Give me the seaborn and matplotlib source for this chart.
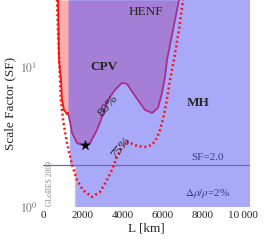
import numpy as np
import pandas as pd
import seaborn as sns
import matplotlib
matplotlib.use("Agg")
import matplotlib.pyplot as plt
from matplotlib.ticker import FixedLocator, MultipleLocator, NullFormatter

sns.set_theme(style="white")
plt.rcParams['font.family'] = ['Liberation Serif', 'DejaVu Serif']
plt.rcParams['mathtext.fontset'] = 'stix'

# ---- data ----
# 75% contour (red dotted)
L75 = [700, 750, 850, 900, 1000, 1200, 1450, 1700, 2000, 2450, 2850, 3200, 3450, 3700,
       3950, 4250, 4700, 5100, 5450, 5700, 5850, 6000, 6150, 6250, 6350, 6550, 6800, 7000]
SF75 = [30.1, 18.4, 8.07, 5.81, 4.18, 2.86, 2.0, 1.56, 1.32, 1.18, 1.28, 1.56, 1.84, 2.28,
        2.68, 2.91, 2.73, 2.68, 2.77, 3.11, 3.55, 4.25, 5.35, 6.52, 8.07, 11.2, 18.4, 30.1]

# 80% contour (boundary of the HENF/CPV region)
L80 = [1250, 1350, 1450, 1700, 2100, 2350, 2700, 2950, 3250, 3600, 3950, 4200, 4500,
       4850, 5100, 5450, 5750, 5950, 6100, 6200, 6500, 6700, 6800]
SF80 = [4.7, 4.05, 3.38, 2.86, 2.73, 2.86, 3.55, 4.39, 5.81, 6.85, 7.69, 7.56, 6.52,
        5.53, 4.93, 4.69, 5.10, 6.52, 8.48, 11.2, 18.4, 25.5, 30.1]

# solid red curve (left edge of pink region)
Lred = [750, 800, 900, 950, 1050, 1200, 1250]
SFred = [30.1, 11.2, 8.07, 5.81, 4.93, 4.6, 4.7]

# best point (star)
L_star = [2100]
SF_star = [2.75]

# region limits
L_mh_upper = 1350     # left edge of MH region above SF=2
L_mh_lower = 1600     # left edge of MH region below SF=2
L_pink_right = 1300
SF_line = 2.0
xticks = [0, 2000, 4000, 6000, 8000, 10000]
xticklabels = ["0", "2000", "4000", "6000", "8000", "10\u2009000"]

XMAX = 10350
YMIN, YMAX = 1.0, 30.0

c_blue = "#a9a9fa"
c_purple = "#a57fd6"
c_pink = "#f9afaf"
c_mag = "#a8308c"
c_red = "#ff1010"

fig = plt.figure(figsize=(2.68, 2.44), dpi=100)
ax = fig.add_axes([43/268, 37/244, 207/268, 207/244])
ax.set_yscale("log")
ax.set_xlim(0, XMAX)
ax.set_ylim(YMIN, YMAX)

# MH region (blue)
ax.fill_betweenx([YMIN, SF_line], L_mh_lower, XMAX, color=c_blue, lw=0, zorder=1)
ax.fill_betweenx([SF_line, YMAX], L_mh_upper, XMAX, color=c_blue, lw=0, zorder=1)

# pink region
ax.fill_betweenx(SFred, Lred, L_pink_right, color=c_pink, lw=0, zorder=2)

# purple HENF region
ax.fill_between(L80, SF80, YMAX, color=c_purple, lw=0, zorder=2)
ax.fill_betweenx([SF80[0], YMAX], L_pink_right, L80[0] + 60, color=c_purple, lw=0, zorder=2)

# grey vertical line and SF=2 line
ax.plot([L_mh_lower, L_mh_lower], [YMIN, SF_line], color="#c8c8c8", lw=1.0, zorder=3)
ax.axhline(SF_line, color="#6b6bb0", lw=0.9, zorder=3)

df75 = pd.DataFrame({"L": L75, "SF": SF75})
df80 = pd.DataFrame({"L": L80, "SF": SF80})
dfred = pd.DataFrame({"L": Lred, "SF": SFred})

sns.lineplot(data=df80, x="L", y="SF", ax=ax, color=c_mag, lw=1.3, sort=False, zorder=4)
sns.lineplot(data=dfred, x="L", y="SF", ax=ax, color=c_red, lw=1.3, sort=False, zorder=4)
sns.lineplot(data=df75, x="L", y="SF", ax=ax, color=c_red, lw=1.8, sort=False, zorder=5)
ax.lines[-1].set_dashes([0.8, 1.1])

sns.scatterplot(x=L_star, y=SF_star, ax=ax, marker="*", color="black", s=55,
                edgecolor="black", linewidth=0.3, zorder=6)

# texts
ax.text(5150, 24.5, "HENF", fontsize=9.5, ha="center", va="center", zorder=7)
ax.text(3050, 10.0, "CPV", fontsize=9.5, fontweight="bold", ha="center", va="center", zorder=7)
ax.text(7750, 5.5, "MH", fontsize=9.5, fontweight="bold", ha="center", va="center", zorder=7)
ax.text(3250, 5.25, "80%", fontsize=9.5, ha="center", va="center", rotation=50, zorder=7)
ax.text(3900, 2.64, "75%", fontsize=9.5, ha="center", va="center", rotation=50,
        style="italic", zorder=7)
ax.text(8250, 2.24, "SF=2.0", fontsize=8, color="#3a3a8c", ha="center", va="center", zorder=7)
ax.text(8250, 1.24, r"$\Delta\rho/\rho$=2%", fontsize=8, color="#3a3a8c",
        ha="center", va="center", zorder=7)
ax.text(7/207, 24/207, "GLoBES 2009", transform=ax.transAxes, fontsize=5.5, color="#888888",
        rotation=90, ha="center", va="center", zorder=7)

# axes styling
for s in ax.spines.values():
    s.set_visible(False)
ax.set_xticks(xticks)
ax.set_xticklabels(xticklabels, fontsize=8)
ax.xaxis.set_minor_locator(MultipleLocator(500))
ax.yaxis.set_major_locator(FixedLocator([1, 10]))
ax.set_yticklabels([r"$10^0$", r"$10^1$"], fontsize=8.5, color="#777777")
ax.yaxis.set_minor_locator(FixedLocator([2, 3, 4, 5, 6, 7, 8, 9, 20, 30]))
ax.yaxis.set_minor_formatter(NullFormatter())
ax.tick_params(axis="both", which="both", length=1.0, width=0.8, color="#555555", pad=3)
ax.tick_params(axis="x", which="both", direction="in")
ax.set_xlabel("L [km]", fontsize=9.5, labelpad=2)
ax.set_ylabel("Scale Factor (SF)", fontsize=9.5, labelpad=2)

fig.savefig("out.png", dpi=100)
